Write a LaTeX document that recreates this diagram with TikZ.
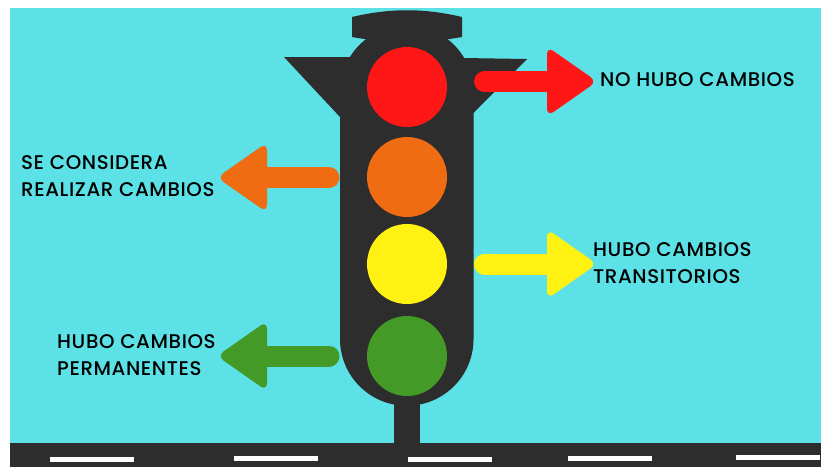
\documentclass[tikz,border=0pt]{standalone}
\usepackage{fontspec}
\setmainfont[LetterSpace=3]{Poppins Medium}
\definecolor{cielo}{HTML}{5CE1E6}
\definecolor{poste}{HTML}{2D2D2D}
\definecolor{rojo}{HTML}{FF1616}
\definecolor{naranja}{HTML}{F06C12}
\definecolor{amarillo}{HTML}{FFF212}
\definecolor{verde}{HTML}{439A26}
\tikzset{
    luz/.style={circle, inner sep=0pt, minimum size=80pt},
    texto/.style={anchor=west, align=left, inner sep=0pt, font=\fontsize{19.8}{26.5}\selectfont, text=black}
}
\newcommand{\flechader}[2]{
    \draw[#1, line width=21pt, line cap=round] (484.5,#2) -- (560,#2);
    \fill[#1, rounded corners=8pt] (547,#2-35) -- (597,#2) -- (547,#2+35) -- cycle;
}
\newcommand{\flechaizq}[2]{
    \draw[#1, line width=21pt, line cap=round] (329,#2) -- (250,#2);
    \fill[#1, rounded corners=8pt] (267,#2-35) -- (217,#2) -- (267,#2+35) -- cycle;
}
\begin{document}
\begin{tikzpicture}[x=1pt, y=-1pt]
    \useasboundingbox (0,0) rectangle (821,467);
    \fill[white] (0,0) rectangle (821,467);
    \fill[cielo] (10,8) rectangle (821,443);
    \fill[poste] (10,443) rectangle (821,467);
    % semaforo
    \fill[poste] (394,400) rectangle (420,443);
    \fill[poste] (284,57) -- (352,57) -- (463,58) -- (527,59) -- (473.5,113) -- (340,117) -- cycle;
    \fill[poste] (340,92) arc[start angle=180, end angle=360, radius=66.75]
        -- (473.5,339) arc[start angle=0, end angle=180, radius=66.75] -- cycle;
    \fill[poste] (352,17) .. controls (390,8) and (424,8) .. (462,17) -- (462,37)
        .. controls (430,43) and (384,43) .. (352,37) -- cycle;
    \node[luz, fill=rojo] (luzroja) at (407,87) {};
    \node[luz, fill=naranja] (luznaranja) at (407,177) {};
    \node[luz, fill=amarillo] (luzamarilla) at (407,264) {};
    \node[luz, fill=verde] (luzverde) at (407,356) {};
    % flechas
    \flechader{rojo}{81.5}
    \flechader{amarillo}{264}
    \flechaizq{naranja}{177.5}
    \flechaizq{verde}{356}
    % lineas de la calle
    \foreach \x/\y in {50/457, 234/456, 408/457, 568/456, 736/455}
        \fill[white] (\x,\y) rectangle (\x+84,\y+5);
    % textos
    \node[texto] (nohubo) at (600,80) {NO HUBO CAMBIOS};
    \node[texto] (considera) at (21,176) {SE CONSIDERA\\REALIZAR CAMBIOS};
    \node[texto] (transitorios) at (593,263) {HUBO CAMBIOS\\TRANSITORIOS};
    \node[texto] (permanentes) at (57,355) {HUBO CAMBIOS\\PERMANENTES};
\end{tikzpicture}
\end{document}
